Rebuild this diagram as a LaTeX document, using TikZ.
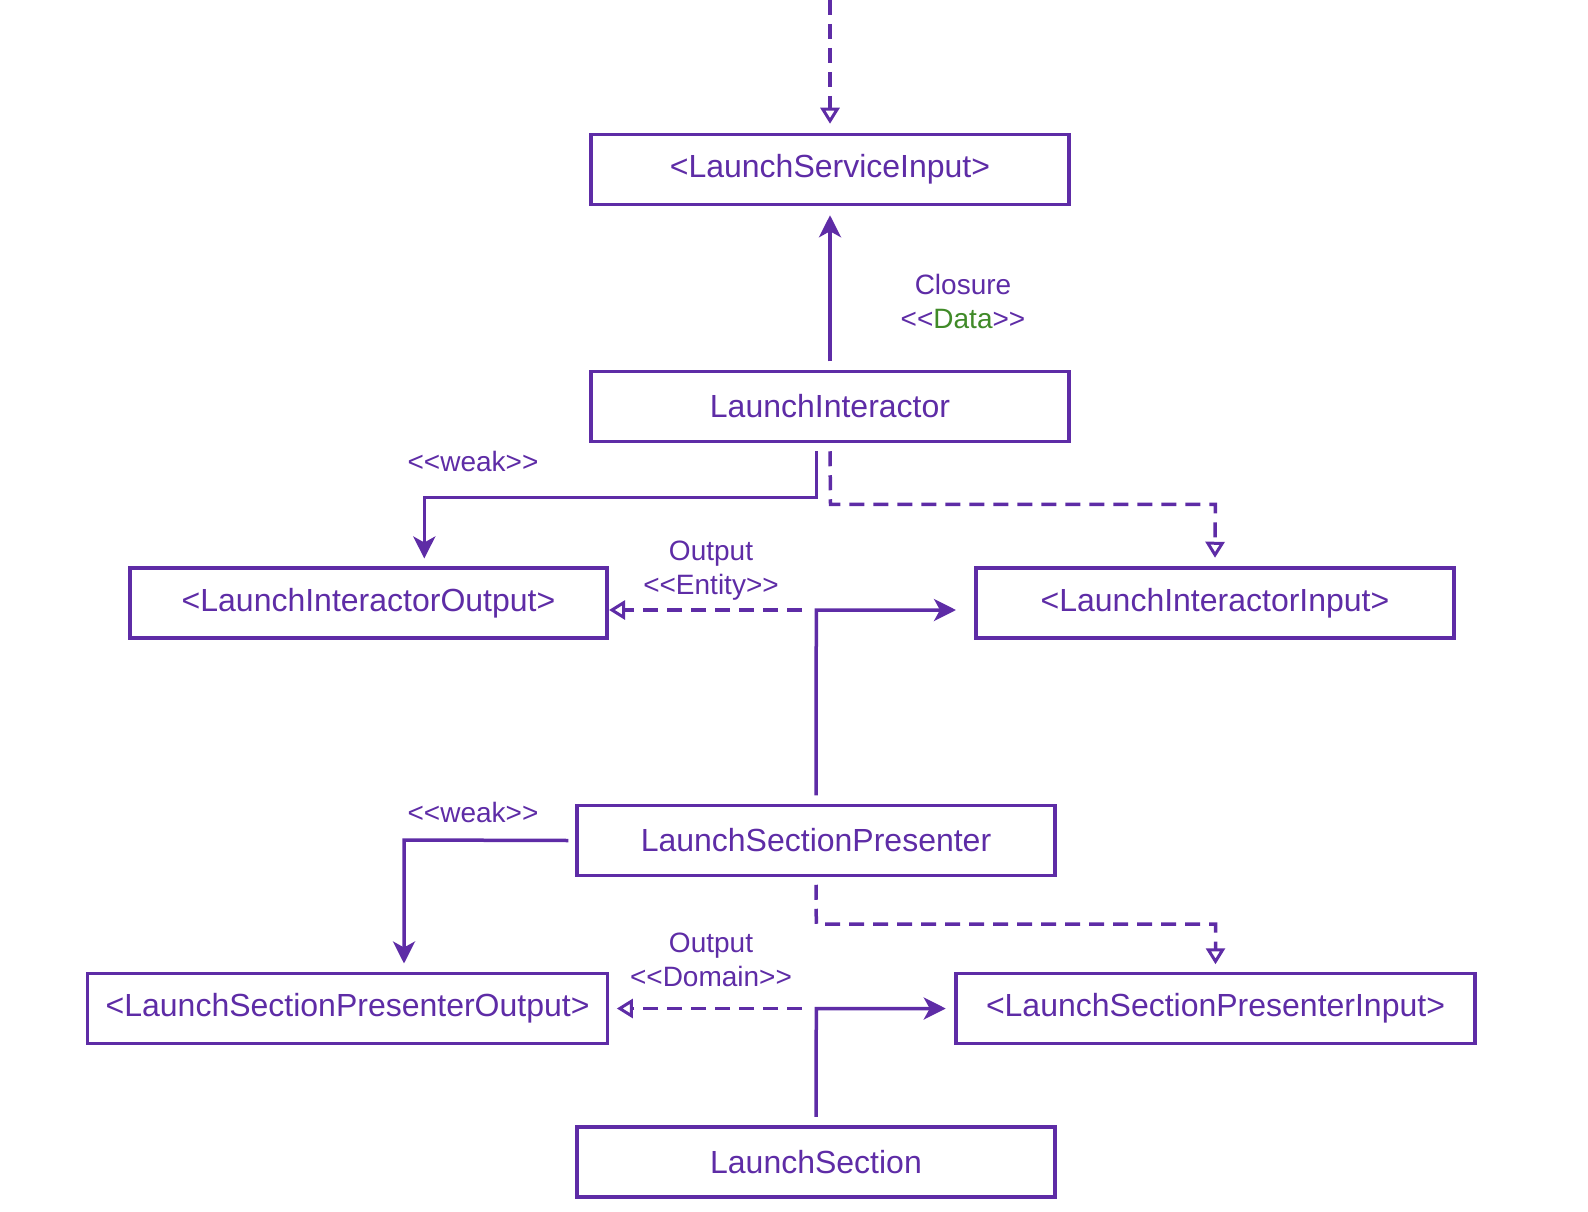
\documentclass[tikz,border=0pt]{standalone}
\usepackage{fontspec}
\setmainfont{Liberation Sans}[Ligatures=TeXOff]
\usetikzlibrary{arrows.meta}
\definecolor{pur}{RGB}{94,44,166}
\definecolor{grn}{RGB}{64,138,40}
\tikzset{
  box/.style={draw=pur, line width=3.5pt, minimum height=70pt, inner sep=0pt,
    text=pur, font=\fontsize{32}{38}\selectfont},
  lbl/.style={text=pur, inner sep=0pt, align=center, font=\fontsize{28}{34}\selectfont},
  conn/.style={draw=pur, line width=3.5pt},
  solidarr/.style={conn, -{Stealth[length=22pt, width=22pt, inset=6pt]}},
  dasharr/.style={conn, dash pattern=on 15pt off 9pt, -{Triangle[open, length=16pt, width=19pt, line width=3pt]}},
}
\begin{document}
\begin{tikzpicture}[x=1pt, y=-1pt]
\useasboundingbox (0,0) rectangle (1588,1212);
% boxes
\node[box, minimum width=478pt] (LSI) at (830,169.5) {<LaunchServiceInput>};
\node[box, minimum width=478pt] (LI) at (830,406.5) {LaunchInteractor};
\node[box, minimum width=477pt] (LIO) at (368.5,603) {<LaunchInteractorOutput>};
\node[box, minimum width=478pt] (LII) at (1215,603) {<LaunchInteractorInput>};
\node[box, minimum width=478pt] (LSP) at (816,840.5) {LaunchSectionPresenter};
\node[box, minimum width=520pt] (LSPO) at (347.6,1008.5) {<LaunchSectionPresenterOutput>};
\node[box, minimum width=519pt] (LSPI) at (1215.5,1008.5) {<LaunchSectionPresenterInput>};
\node[box, minimum width=478pt] (LS) at (816,1162) {LaunchSection};
% labels
\node[lbl] (lclos) at (963,301) {Closure\\<<\textcolor{grn}{Data}>>};
\node[lbl] (lweak1) at (473,461) {<<weak>>};
\node[lbl] (lweak2) at (473,812) {<<weak>>};
\node[lbl] (lent) at (711,571) {Output\\<<Entity>>};
\node[lbl] (ldom) at (711,960) {Output\\<<Domain>>};
% coordinates
\coordinate (top) at (830,0);
\coordinate (a1) at (816.3,497.5);
\coordinate (a2) at (424.3,497.5);
\coordinate (a3) at (424.3,558.5);
\coordinate (b1) at (830.5,504.4);
\coordinate (b2) at (1215.3,504.4);
\coordinate (c1) at (816.3,610);
\coordinate (c2) at (802,610);
\coordinate (c3) at (956,610);
\coordinate (c4) at (609,610);
\coordinate (d1) at (404,840);
\coordinate (d2) at (404,963.5);
\coordinate (e1) at (816.3,924);
\coordinate (e2) at (1215.5,924);
\coordinate (f1) at (816.3,1008.5);
\coordinate (f2) at (802,1008.5);
% top dashed into LSI
\draw[dasharr] (top) -- ([yshift=9pt]LSI.north);
% LI -> LSI closure
\draw[solidarr] ([yshift=8.5pt]LI.north) -- ([yshift=-9pt]LSI.south);
% LI -> LIO weak
\draw[solidarr] ([xshift=-13.7pt,yshift=-8pt]LI.south) -- (a1) -- (a2) -- (a3);
% LI -> LII dashed
\draw[dasharr] ([yshift=-8pt]LI.south) -- (b1) -- (b2) -- ([yshift=8.5pt]LII.north);
% LSP -> LII solid
\draw[solidarr] ([yshift=8.5pt]LSP.north) -- (c1) -- (c3);
% LSP -> LIO dashed
\draw[dasharr] (c2) -- (c4);
% LSP -> LSPO weak
\draw[solidarr] ([xshift=-7pt]LSP.west) -- (d1) -- (d2);
% LSP -> LSPI dashed
\draw[dasharr] ([yshift=-7.5pt]LSP.south) -- (e1) -- (e2) -- ([yshift=7.5pt]LSPI.north);
% LS -> LSPI solid
\draw[solidarr] ([yshift=8.5pt]LS.north) -- (f1) -- ([xshift=-8.5pt]LSPI.west);
% LS -> LSPO dashed
\draw[dasharr] (f2) -- ([xshift=7.5pt]LSPO.east);
\end{tikzpicture}
\end{document}
